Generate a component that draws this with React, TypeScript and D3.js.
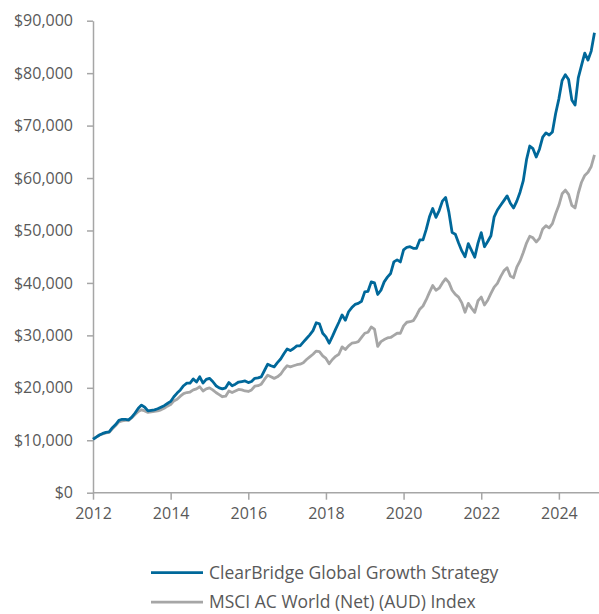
// App.tsx
// growth of $10,000 line chart, strategy vs benchmark
import * as d3 from 'd3';
import React, { useRef, useEffect } from 'react';

const seriesNames = ['ClearBridge Global Growth Strategy', 'MSCI AC World (Net) (AUD) Index'];
const seriesColors = ['#00689a', '#a6a6a6'];
const startYear = 2012; // monthly values, Jan 2012 .. Dec 2024
const yTicks = [0, 10000, 20000, 30000, 40000, 50000, 60000, 70000, 80000, 90000];
const xTicks = [2012, 2014, 2016, 2018, 2020, 2022, 2024];

const strategy = [
  10200, 10600, 11000, 11300, 11500, 11600, 12400, 13000, 13800, 14000, 14000, 13900,
  14400, 15200, 16100, 16700, 16300, 15600, 15700, 15800, 16000, 16300, 16600, 17000,
  17400, 18300, 19000, 19600, 20400, 20900, 20900, 21700, 21100, 22100, 20900, 21600,
  21800, 21200, 20400, 20000, 19800, 20000, 21000, 20400, 20700, 21100, 21200, 21300,
  21000, 21200, 21800, 21900, 22100, 23300, 24500, 24200, 24000, 24800, 25500, 26500,
  27400, 27100, 27500, 28000, 28000, 28700, 29400, 30100, 30900, 32400, 32200, 30400,
  29700, 28500, 29800, 31200, 32500, 33900, 32900, 34500, 35300, 35900, 36100, 36500,
  38300, 38400, 40200, 40000, 37800, 38600, 40200, 41100, 41800, 44000, 44400, 44000,
  46300, 46800, 46900, 46600, 46600, 48200, 48200, 50200, 52600, 54200, 52500, 53800,
  55600, 56300, 53500, 49600, 49300, 47600, 46100, 45000, 47500, 46200, 44900, 47600,
  49600, 46900, 47900, 49000, 52600, 53900, 54800, 55700, 56600, 55200, 54300, 55600,
  57300, 59500, 63500, 66100, 65600, 64000, 65500, 67800, 68600, 68200, 68800, 72300,
  75100, 78600, 79700, 78800, 74900, 73900, 79100, 81500, 83800, 82500, 84200, 87700,
];

const benchmark = [
  10200, 10600, 11000, 11200, 11400, 11500, 12200, 12800, 13500, 13700, 13800, 13800,
  14300, 14900, 15500, 15800, 15600, 15300, 15400, 15500, 15600, 15800, 16100, 16500,
  16800, 17500, 17800, 18400, 18900, 19100, 19200, 19600, 19800, 20200, 19400, 19800,
  20000, 19600, 19100, 18700, 18300, 18400, 19400, 19100, 19400, 19700, 19600, 19400,
  19300, 19600, 20300, 20400, 20700, 21600, 22400, 22100, 21800, 22100, 22600, 23500,
  24200, 24000, 24200, 24400, 24500, 24800, 25400, 25900, 26400, 27000, 26900, 26100,
  25600, 24600, 25400, 26000, 26400, 27800, 27300, 28000, 28500, 28600, 28800, 29600,
  30400, 30600, 31600, 31200, 27900, 28800, 29200, 29500, 29600, 30000, 30400, 30400,
  31800, 32500, 32600, 32800, 33800, 35000, 35600, 36800, 38200, 39500, 38600, 39000,
  40000, 40800, 40100, 38600, 37800, 37300, 36200, 34400, 36100, 35200, 34400, 36600,
  37300, 35800, 36700, 38000, 39200, 39900, 41200, 42300, 42900, 41300, 41000, 43000,
  44200, 45800, 47600, 48900, 48600, 47800, 48500, 50300, 50900, 50500, 51300, 53200,
  54800, 57000, 57700, 56900, 54800, 54300, 57100, 59200, 60500, 61100, 62200, 64400,
];

function LineChart({ width, height }: { width: number; height: number }) {
  const ref = useRef<SVGSVGElement>(null);

  useEffect(() => {
    const svg = d3.select(ref.current);
    svg.selectAll('*').remove();

    const font = "'Open Sans', 'Noto Sans', sans-serif";
    const axisGrey = '#a6a6a6';
    const textGrey = '#595959';

    const x = d3.scaleLinear().domain([2012, 2025]).range([93, 597.7]);
    const y = d3.scaleLinear().domain([0, 90000]).range([492.7, 20.7]);

    const monthX = (i: number) => x(startYear + i / 12);

    // y axis
    const yAxis = svg.append('g')
      .attr('transform', 'translate(93,0)')
      .call(d3.axisLeft(y).tickValues(yTicks).tickSize(6).tickSizeOuter(0)
        .tickFormat((d) => '$' + d3.format(',')(d as number)));
    yAxis.select('.domain').attr('stroke', axisGrey).attr('stroke-width', 1.5);
    yAxis.selectAll('.tick line').attr('stroke', axisGrey).attr('stroke-width', 1.5);
    yAxis.selectAll('.tick text')
      .attr('x', -20)
      .attr('fill', textGrey)
      .attr('font-family', font)
      .attr('font-size', 16);

    // x axis
    const xAxis = svg.append('g')
      .attr('transform', 'translate(0,492.7)')
      .call(d3.axisBottom(x).tickValues(xTicks).tickSize(7).tickSizeOuter(0)
        .tickFormat((d) => String(d)));
    xAxis.select('.domain').attr('stroke', axisGrey).attr('stroke-width', 1.5)
      .attr('d', 'M93,0H599');
    xAxis.selectAll('.tick line').attr('stroke', axisGrey).attr('stroke-width', 1.5);
    xAxis.selectAll('.tick text')
      .attr('y', 15)
      .attr('fill', textGrey)
      .attr('font-family', font)
      .attr('font-size', 16);

    const line = d3.line<number>()
      .x((d, i) => monthX(i))
      .y((d) => y(d));

    // benchmark first so the strategy sits on top
    [benchmark, strategy].forEach((data, k) => {
      svg.append('path')
        .datum(data)
        .attr('fill', 'none')
        .attr('stroke', k === 0 ? seriesColors[1] : seriesColors[0])
        .attr('stroke-width', 2.8)
        .attr('stroke-linejoin', 'round')
        .attr('d', line);
    });

    // legend
    const legend = svg.append('g');
    seriesNames.forEach((name, i) => {
      const ly = 572.7 + i * 29.5;
      legend.append('line')
        .attr('x1', 151).attr('x2', 203)
        .attr('y1', ly).attr('y2', ly)
        .attr('stroke', seriesColors[i])
        .attr('stroke-width', 2.8);
      legend.append('text')
        .attr('x', 209).attr('y', ly)
        .attr('dy', '0.35em')
        .attr('fill', textGrey)
        .attr('font-family', font)
        .attr('font-size', 17.5)
        .text(name);
    });
  }, [width, height]);

  return (
    <svg ref={ref} width={width} height={height}
      style={{ position: 'absolute', left: 0, top: 0, display: 'block' }} />
  );
}

export default function App() {
  return <LineChart width={599} height={614} />;
}
